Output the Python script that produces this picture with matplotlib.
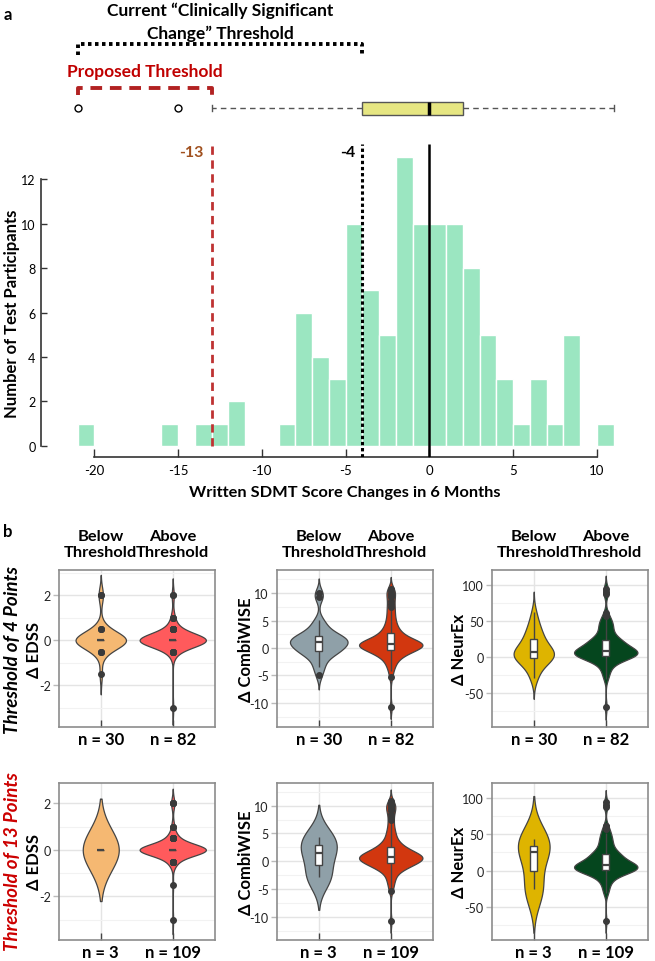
import numpy as np
import matplotlib
matplotlib.use('Agg')
import matplotlib.pyplot as plt
from matplotlib.patches import Rectangle
from matplotlib.ticker import MultipleLocator

plt.rcParams['font.family'] = ['Lato', 'DejaVu Sans']
plt.rcParams['axes.unicode_minus'] = False

# ---------------- DATA ----------------
# Panel a: histogram of written SDMT changes (bins of width 1, left edges)
hist_bin_left = [-21, -16, -14, -13, -12, -9, -8, -7, -6, -5, -4, -3, -2, -1, 0, 1, 2, 3, 4, 5, 6, 7, 8, 10]
hist_counts = [1, 1, 1, 1, 2, 1, 6, 4, 3, 10, 7, 5, 13, 10, 10, 10, 8, 5, 3, 1, 3, 1, 5, 1]
hist_xticks = [-20, -15, -10, -5, 0, 5, 10]
hist_yticks = [0, 2, 4, 6, 8, 10, 12]
thresholds = {'current': -4, 'proposed': -13, 'zero': 0}

# Box plot above the histogram
box_q1, box_med, box_q3 = -4, 0, 2
box_whislo, box_whishi = -13, 11
box_fliers = [-21, -15]

# Panel b: violin data
edss_levels = [-3, -1.5, -0.5, 0, 0.5, 1, 2]
edss_below4_counts = [0, 1, 3, 21, 3, 0, 2]
edss_above4_counts = [1, 0, 6, 62, 8, 3, 2]
edss_below13_counts = [0, 0, 0, 3, 0, 0, 0]

combi_below4 = [-4.9, -3.5, -2.9, -1.8, -1.3, -1.0, -0.7, -0.5, -0.4, -0.1,
                0.2, 0.4, 0.6, 0.8, 1.0, 1.1, 1.3, 1.5, 1.6, 1.8,
                1.9, 2.0, 2.2, 2.6, 3.1, 3.6, 4.3, 5.1, 9.2, 10.0]
combi_above4 = [-10.8, -5.3, -4.2, -3.6, -3.1, -2.7, -2.4, -2.1, -1.8, -1.6,
                -1.4, -1.2, -1.1, -1.0, -0.9, -0.8, -0.7, -0.6, -0.5, -0.45,
                -0.4, -0.3, -0.2, -0.1, 0.0, 0.1, 0.15, 0.2, 0.25, 0.3,
                0.35, 0.4, 0.45, 0.5, 0.55, 0.6, 0.62, 0.65, 0.68, 0.7,
                0.72, 0.75, 0.8, 0.85, 0.9, 0.95, 1.0, 1.1, 1.2, 1.3,
                1.4, 1.5, 1.6, 1.7, 1.8, 1.9, 2.0, 2.1, 2.2, 2.4,
                2.6, 2.8, 3.0, 3.2, 3.4, 3.7, 4.0, 4.3, 4.7, 5.1,
                5.5, 6.0, 6.5, 7.0, 7.5, 8.0, 8.6, 9.2, 9.6, 10.1, 10.5, 10.8]
combi_below13 = [-2.9, 1.5, 4.3]

neurex_below4 = [-30, -26, -18, -12, -8, -5, -3, -2, -1, 0,
                 1, 2, 3, 4, 5, 7, 8, 10, 12, 14,
                 17, 22, 25, 26, 30, 35, 40, 43, 52, 62]
neurex_above4 = [-70, -31, -26, -22, -18, -15, -12, -10, -8, -6,
                 -5, -4, -3, -2, -1.5, -1, -0.5, 0, 0.3, 0.5,
                 0.8, 1, 1.5, 2, 2.5, 3, 3.5, 4, 4.5, 5,
                 5.5, 6, 6.3, 6.6, 7, 7.3, 7.6, 7.8, 8, 8.2,
                 8.4, 8.7, 9, 9.5, 10, 10.5, 11, 12, 13, 14,
                 15, 16, 17, 18, 19, 20, 20.5, 21, 21.5, 22,
                 22.5, 23, 24, 25, 27, 29, 31, 33, 35, 38,
                 40, 42, 44, 46, 48, 50, 52, 57, 61, 88, 91, 95]
neurex_below13 = [-26, 26, 43]

group_titles = ['Below\nThreshold', 'Above\nThreshold']
metric_labels = ['Δ EDSS', 'Δ CombiWISE', 'Δ NeurEx']
row_titles = ['Threshold of 4 Points', 'Threshold of 13 Points']
n_labels = [['n = 30', 'n = 82'], ['n = 3', 'n = 109']]


def complement(full, part):
    rest = list(full)
    for v in part:
        rest.remove(v)
    return rest


edss_below4 = list(np.repeat(edss_levels, edss_below4_counts))
edss_above4 = list(np.repeat(edss_levels, edss_above4_counts))
edss_below13 = list(np.repeat(edss_levels, edss_below13_counts))
edss_above13 = edss_above4 + complement(edss_below4, edss_below13)
combi_above13 = combi_above4 + complement(combi_below4, combi_below13)
neurex_above13 = neurex_above4 + complement(neurex_below4, neurex_below13)

data = {
    'edss': [[edss_below4, edss_above4], [edss_below13, edss_above13]],
    'combi': [[combi_below4, combi_above4], [combi_below13, combi_above13]],
    'neurex': [[neurex_below4, neurex_above4], [neurex_below13, neurex_above13]],
}

# ---------------- STYLE ----------------
W, H = 655, 962
fig = plt.figure(figsize=(W / 100, H / 100), dpi=100)


def px_axes(l, t, r, b):
    return fig.add_axes([l / W, 1 - b / H, (r - l) / W, (b - t) / H])


def fig_text(x, y, s, **kw):
    fig.text(x / W, 1 - y / H, s, **kw)


# ---- Panel a histogram ----
PXU = 16.75
hl, hr = 41, 620
x0 = -23.18
x1 = x0 + (hr - hl) / PXU
ax = px_axes(hl, 145, hr, 458)
ax.bar(hist_bin_left, hist_counts, width=1, align='edge', color='#9BE6C1',
       edgecolor='white', linewidth=1, zorder=2)
ax.set_xlim(x0, x1)
ax.set_ylim(-0.51, 13.6)
for s in ['top', 'right']:
    ax.spines[s].set_visible(False)
ax.spines['left'].set_bounds(0, 12)
ax.spines['bottom'].set_bounds(-20, 10)
for s in ['left', 'bottom']:
    ax.spines[s].set_color('#333333')
    ax.spines[s].set_linewidth(1.2)
ax.set_xticks(hist_xticks)
ax.set_yticks(hist_yticks)
ax.tick_params(axis='x', direction='in', length=6, width=1, colors='#333333',
               labelcolor='black', labelsize=9.5, pad=5)
ax.tick_params(axis='y', direction='in', length=4, width=1, colors='#333333',
               labelcolor='black', labelsize=9, pad=4)
ax.vlines(thresholds['proposed'], 0, 13.6, colors='#BE3232', linestyles=(0, (3, 2)), lw=2, zorder=3)
ax.vlines(thresholds['current'], -0.51, 13.6, colors='black', linestyles=(0, (1.1, 0.9)), lw=2.2, zorder=3)
ax.vlines(thresholds['zero'], -0.51, 13.6, colors='black', lw=1.8, zorder=3)
ax.text(thresholds['proposed'] - 0.45, 13.26, '-13', ha='right', va='center',
        color='#A0501E', fontweight='bold', fontsize=11.5)
ax.text(thresholds['current'] - 0.4, 13.26, '-4', ha='right', va='center',
        color='black', fontweight='bold', fontsize=11.5)

# ---- Panel a top strip (box plot + brackets) ----
axt = px_axes(hl, 0, hr, 145)
axt.set_xlim(x0, x1)
axt.set_ylim(145, 0)
axt.axis('off')
stats = [dict(med=box_med, q1=box_q1, q3=box_q3, whislo=box_whislo,
              whishi=box_whishi, fliers=box_fliers)]
bkw = dict(positions=[109], widths=13, patch_artist=True,
           boxprops=dict(facecolor='#E6E682', edgecolor='#555555', lw=1),
           medianprops=dict(color='black', lw=2.5),
           whiskerprops=dict(color='#555555', ls=(0, (4, 3)), lw=1),
           capprops=dict(color='#555555', lw=1),
           flierprops=dict(marker='o', mfc='white', mec='black', ms=5, mew=1),
           capwidths=6, manage_ticks=False)
try:
    axt.bxp(stats, orientation='horizontal', **bkw)
except TypeError:
    axt.bxp(stats, vert=False, **bkw)
axt.plot([-21, -21, -4, -4], [56, 45, 45, 56], color='black', lw=2.8,
         ls=(0, (0.9, 0.9)), solid_capstyle='butt')
axt.plot([-21, -21, -13, -13], [96, 89, 89, 96], color='#B22222', lw=2.8,
         ls=(0, (3, 2)))
axt.text(-12.5, 11, 'Current \u201cClinically Significant', ha='center', va='center',
         fontsize=12.5, fontweight='bold')
axt.text(-12.5, 34, 'Change\u201d Threshold', ha='center', va='center',
         fontsize=12.5, fontweight='bold')
axt.text(-17, 72, 'Proposed Threshold', ha='center', va='center',
         fontsize=12.5, fontweight='bold', color='#C00000')

fig_text(12, 314, 'Number of Test Participants', rotation=90, ha='center', va='center',
         fontsize=12, fontweight='bold')
fig_text(345, 493, 'Written SDMT Score Changes in 6 Months', ha='center', va='center',
         fontsize=11.8, fontweight='bold')
fig_text(8, 15, 'a', ha='center', va='center', fontsize=12, fontweight='bold')
fig_text(8, 532, 'b', ha='center', va='center', fontsize=12, fontweight='bold')

# ---- Panel b violins ----
metrics = ['edss', 'combi', 'neurex']
colors = {'edss': ['#F5B872', '#FF5A5C'],
          'combi': ['#8FA0A8', '#D2370F'],
          'neurex': ['#DEB400', '#05461E']}
bws = {'edss': [[0.36, 0.3], [0.88, 0.25]],
       'combi': [[1.06, 0.85], [2.35, 0.85]],
       'neurex': [[11.5, 7.2], [24, 6.5]]}
halfw = {'edss': [[0.35, 0.46], [0.25, 0.46]],
         'combi': [[0.40, 0.44], [0.25, 0.44]],
         'neurex': [[0.28, 0.44], [0.22, 0.44]]}
ylims = {'edss': [(-3.85, 3.12), (-3.87, 2.87)],
         'combi': [(-14.4, 14.2), (-14.2, 14.1)],
         'neurex': [(-98, 121), (-96, 121)]}
major = {'edss': 2, 'combi': 5, 'neurex': 50}
minor = {'edss': 1, 'combi': 2.5, 'neurex': 25}
CUT = 2.5
BOXW = 0.1
LINEC = '#444444'

cols_px = [(59, 214.5), (277, 432.5), (492, 647.5)]
rows_px = [(571, 728), (784, 941)]
ylabel_x = [34, 246, 459]
XL = (-0.58, 1.58)


def draw_violin(ax, pos, values, bw, hw, color):
    v = np.asarray(values, dtype=float)
    y = np.linspace(v.min() - CUT * bw, v.max() + CUT * bw, 500)
    dens = np.exp(-0.5 * ((y[:, None] - v[None, :]) / bw) ** 2).sum(axis=1)
    dens = dens / dens.max() * hw
    ax.fill_betweenx(y, pos - dens, pos + dens, facecolor=color,
                     edgecolor=LINEC, lw=0.9, zorder=2)
    q1, med, q3 = np.percentile(v, [25, 50, 75])
    iqr = q3 - q1
    lo_f, hi_f = q1 - 1.5 * iqr, q3 + 1.5 * iqr
    inside = v[(v >= lo_f) & (v <= hi_f)]
    ax.vlines(pos, inside.min(), inside.max(), color=LINEC, lw=1, zorder=3)
    ax.add_patch(Rectangle((pos - BOXW / 2, q1), BOXW, q3 - q1, facecolor='white',
                           edgecolor=LINEC, lw=1, zorder=4))
    ax.hlines(med, pos - BOXW / 2, pos + BOXW / 2, color=LINEC, lw=1.6, zorder=5)
    out = v[(v < lo_f) | (v > hi_f)]
    ax.plot(np.full(len(out), pos), out, 'o', color='#3A3A3A', ms=4, zorder=6)


for r, (top, bot) in enumerate(rows_px):
    for c, m in enumerate(metrics):
        l, rr = cols_px[c]
        a = px_axes(l, top, rr, bot)
        a.set_axisbelow(True)
        for g in range(2):
            draw_violin(a, g, data[m][r][g], bws[m][r][g], halfw[m][r][g], colors[m][g])
        a.set_xlim(*XL)
        a.set_ylim(*ylims[m][r])
        a.yaxis.set_major_locator(MultipleLocator(major[m]))
        a.yaxis.set_minor_locator(MultipleLocator(minor[m]))
        a.grid(True, which='major', axis='y', color='#E4E4E4', lw=1)
        a.grid(True, which='minor', axis='y', color='#F2F2F2', lw=0.8)
        a.set_xticks([0, 1])
        a.set_xticklabels(n_labels[r], fontweight='bold', fontsize=12)
        a.grid(True, which='major', axis='x', color='#E4E4E4', lw=1)
        a.tick_params(axis='x', direction='in', length=5, width=1, colors=LINEC,
                      labelcolor='black', pad=3)
        a.tick_params(axis='y', which='major', direction='out', length=4, width=1,
                      colors='#BBBBBB', labelcolor='#222222', labelsize=9, pad=2)
        a.tick_params(axis='y', which='minor', length=0)
        for s in a.spines.values():
            s.set_color('#8C8C8C')
            s.set_linewidth(1.2)
        fig_text(ylabel_x[c], (top + bot) / 2, metric_labels[c], rotation=90,
                 ha='center', va='center', fontsize=12, fontweight='bold')
        if r == 0:
            for g in range(2):
                a.text(g, 1.166, group_titles[g], transform=a.get_xaxis_transform(),
                       ha='center', va='center', fontsize=11.8, fontweight='bold',
                       linespacing=1.25)

fig_text(13, 650, row_titles[0], rotation=90, ha='center', va='center',
         fontsize=13.5, fontweight='bold', fontstyle='italic', color='black')
fig_text(13, 862, row_titles[1], rotation=90, ha='center', va='center',
         fontsize=13.5, fontweight='bold', fontstyle='italic', color='#CC0000')

fig.savefig('out.png', dpi=100)
